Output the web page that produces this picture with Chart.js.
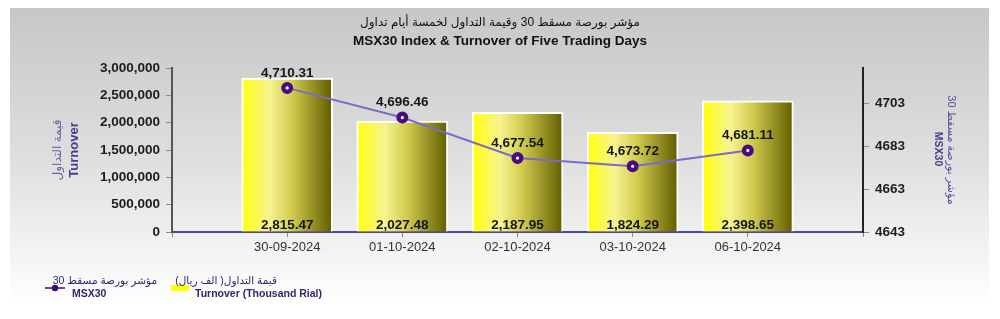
<!DOCTYPE html>
<html>
<head>
<meta charset="utf-8">
<script src="https://cdn.jsdelivr.net/npm/chart.js@4.4.1/dist/chart.umd.min.js"></script>
<style>
  html, body { margin: 0; padding: 0; background: #fff; }
  #wrap { width: 1000px; height: 319px; position: relative; }
</style>
</head>
<body>
<div id="wrap"><canvas id="chart"></canvas></div>
<script>
const dates = ['30-09-2024', '01-10-2024', '02-10-2024', '03-10-2024', '06-10-2024'];
const turnover = [2815.47, 2027.48, 2187.95, 1824.29, 2398.65]; // bar labels
const turnoverScale = 1000; // bars are plotted against the left axis in these units
const msx30 = [4710.31, 4696.46, 4677.54, 4673.72, 4681.11];
const indexTicks = [4643, 4663, 4683, 4703];
const indexMin = 4643;
const indexMax = 4719.6;
const turnoverMax = 3000000;
const turnoverStep = 500000;

const titleAr = 'مؤشر بورصة مسقط 30 وقيمة التداول لخمسة أيام تداول';
const titleEn = 'MSX30 Index & Turnover of Five Trading Days';
const leftTitleAr = 'قيمة التداول';
const leftTitleEn = 'Turnover';
const rightTitleAr = 'مؤشر بورصة مسقط 30';
const rightTitleEn = 'MSX30';
const legendLineAr = 'مؤشر بورصة مسقط 30';
const legendLineEn = 'MSX30';
const legendBarAr = 'قيمة التداول( الف ريال)';
const legendBarEn = 'Turnover (Thousand Rial)';

// one empty slot on each side, like the original axis
const labels = [''].concat(dates, ['']);
const barData = [null].concat(turnover.map(v => v * turnoverScale), [null]);
const lineData = [null].concat(msx30, [null]);

const FONT = "Arial, 'Liberation Sans', 'DejaVu Sans', sans-serif";
const fmt = (v, d) => v.toLocaleString('en-US', { minimumFractionDigits: d, maximumFractionDigits: d });

const barGradient = (ctx) => {
  const chart = ctx.chart;
  const xs = chart.scales.x;
  if (!chart.chartArea || !xs || ctx.dataIndex == null) return '#ffff00';
  const cx = xs.getPixelForValue(ctx.dataIndex);
  const g = chart.ctx.createLinearGradient(cx - 44, 0, cx + 44, 0);
  g.addColorStop(0, '#ffff10');
  g.addColorStop(0.3, '#f7f391');
  g.addColorStop(0.55, '#d2cc50');
  g.addColorStop(1, '#646000');
  return g;
};

const decorations = {
  id: 'decorations',
  beforeDraw(chart) {
    const c = chart.ctx;
    c.save();
    c.fillStyle = '#ffffff';
    c.fillRect(0, 0, chart.width, chart.height);
    const g = c.createLinearGradient(0, 8, 0, 305);
    g.addColorStop(0, '#c7c7c7');
    g.addColorStop(0.5, '#dedede');
    g.addColorStop(1, '#ffffff');
    c.fillStyle = g;
    c.fillRect(10, 8, 979, 300);

    // titles
    c.fillStyle = '#111';
    c.textAlign = 'center';
    c.textBaseline = 'middle';
    c.direction = 'rtl';
    c.font = '12px ' + FONT;
    c.fillText(titleAr, 500, 23);
    c.direction = 'ltr';
    c.font = 'bold 13.5px ' + FONT;
    c.fillText(titleEn, 500, 41);

    // left axis title
    c.save();
    c.translate(58, 150);
    c.rotate(-Math.PI / 2);
    c.direction = 'rtl';
    c.fillStyle = '#6a5ea8';
    c.font = '12px ' + FONT;
    c.fillText(leftTitleAr, 0, 0);
    c.direction = 'ltr';
    c.restore();
    c.save();
    c.translate(74, 150);
    c.rotate(-Math.PI / 2);
    c.fillStyle = '#4a3d8f';
    c.font = 'bold 13px ' + FONT;
    c.fillText(leftTitleEn, 0, 0);
    c.restore();

    // right axis title
    c.save();
    c.translate(951, 150);
    c.rotate(Math.PI / 2);
    c.direction = 'rtl';
    c.fillStyle = '#5b4f9c';
    c.font = '11px ' + FONT;
    c.fillText(rightTitleAr, 0, 0);
    c.direction = 'ltr';
    c.restore();
    c.save();
    c.translate(938, 149);
    c.rotate(Math.PI / 2);
    c.fillStyle = '#4a3d8f';
    c.font = 'bold 10.5px ' + FONT;
    c.fillText(rightTitleEn, 0, 0);
    c.restore();

    // legend
    c.strokeStyle = '#6a4aa8';
    c.lineWidth = 2;
    c.beginPath();
    c.moveTo(45, 288);
    c.lineTo(65, 288);
    c.stroke();
    c.fillStyle = '#3e0a70';
    c.beginPath();
    c.arc(55, 288, 3.2, 0, Math.PI * 2);
    c.fill();
    c.fillStyle = '#ffff00';
    c.fillRect(171, 285, 18, 6);

    c.fillStyle = '#2b2b6b';
    c.direction = 'rtl';
    c.font = '10.5px ' + FONT;
    c.textAlign = 'right';
    c.fillText(legendLineAr, 157, 281);
    c.fillText(legendBarAr, 277, 281);
    c.direction = 'ltr';
    c.textAlign = 'left';
    c.font = 'bold 10.5px ' + FONT;
    c.fillText(legendLineEn, 72, 294);
    c.fillText(legendBarEn, 195, 294);
    c.restore();
  },
  afterDatasetsDraw(chart) {
    const c = chart.ctx;
    c.save();
    c.fillStyle = '#151515';
    c.textAlign = 'center';
    c.textBaseline = 'middle';
    c.font = 'bold 13.5px ' + FONT;
    const barMeta = chart.getDatasetMeta(0);
    barMeta.data.forEach((el, i) => {
      if (barData[i] == null) return;
      c.fillText(fmt(turnover[i - 1], 2), el.x, chart.chartArea.bottom - 7);
    });
    const lineMeta = chart.getDatasetMeta(1);
    lineMeta.data.forEach((el, i) => {
      if (lineData[i] == null) return;
      c.fillText(fmt(msx30[i - 1], 2), el.x, el.y - 15);
    });
    c.restore();
  }
};

new Chart(document.getElementById('chart'), {
  data: {
    labels: labels,
    datasets: [
      {
        type: 'bar',
        label: legendBarEn,
        data: barData,
        yAxisID: 'y',
        order: 1,
        backgroundColor: barGradient,
        borderColor: '#ffffff',
        borderWidth: 2,
        borderSkipped: 'bottom',
        barThickness: 91
      },
      {
        type: 'line',
        label: legendLineEn,
        data: lineData,
        yAxisID: 'y1',
        order: 0,
        borderColor: '#7b6bc6',
        borderWidth: 2,
        tension: 0,
        pointRadius: 3.8,
        pointBorderWidth: 4.4,
        pointBackgroundColor: '#ffffff',
        pointBorderColor: '#4a0c80'
      }
    ]
  },
  options: {
    responsive: true,
    maintainAspectRatio: false,
    animation: false,
    layout: { padding: { top: 68, left: 0, right: 0, bottom: 0 } },
    plugins: {
      legend: { display: false },
      title: { display: false },
      tooltip: { enabled: false }
    },
    scales: {
      x: {
        offset: false,
        afterFit: (s) => { s.height = 87; },
        grid: { offset: false, drawOnChartArea: false, drawTicks: true, tickLength: 5, color: '#8a8a8a' },
        border: { color: '#4a4a8c', width: 2 },
        ticks: {
          color: '#333',
          font: { family: FONT, size: 13 },
          padding: 3,
          maxRotation: 0,
          autoSkip: false
        }
      },
      y: {
        position: 'left',
        min: 0,
        max: turnoverMax,
        afterFit: (s) => { s.width = 172; },
        grid: { drawOnChartArea: false, tickLength: 6, color: '#8a8a8a' },
        border: { color: '#555', width: 2 },
        ticks: {
          stepSize: turnoverStep,
          color: '#1c1c1c',
          padding: 6,
          font: { family: FONT, size: 13.5, weight: 'bold' },
          callback: (v) => fmt(v, 0)
        }
      },
      y1: {
        position: 'right',
        min: indexMin,
        max: indexMax,
        afterFit: (s) => { s.width = 137; },
        afterBuildTicks: (s) => { s.ticks = indexTicks.map(v => ({ value: v })); },
        grid: { drawOnChartArea: false, tickLength: 6, color: '#8a8a8a' },
        border: { color: '#222', width: 2 },
        ticks: {
          color: '#1c1c1c',
          padding: 6,
          font: { family: FONT, size: 13.5, weight: 'bold' },
          callback: (v) => String(v)
        }
      }
    }
  },
  plugins: [decorations]
});
</script>
</body>
</html>
